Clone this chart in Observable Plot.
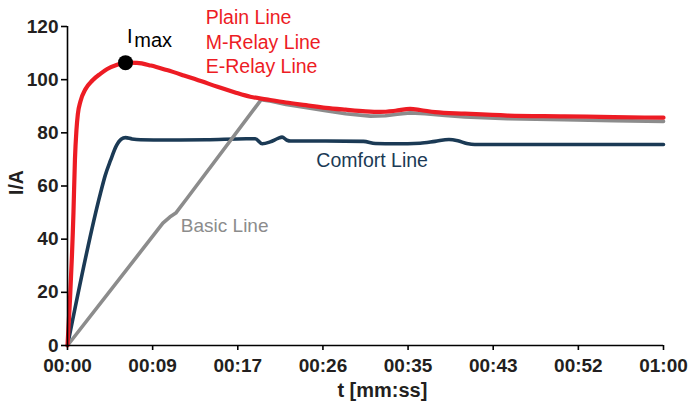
<!DOCTYPE html>
<html><head><meta charset="utf-8">
<script src="https://cdn.jsdelivr.net/npm/d3@7"></script>
<script src="https://cdn.jsdelivr.net/npm/@observablehq/plot@0.6"></script>
<style>body{margin:0;background:#fff}</style>
</head><body><div id="chart"></div>
<script>
// time in seconds, current in A
const plainT = [0, 0.6, 0.75, 0.9, 1.04, 1.3, 1.8, 2.5, 3.3, 4.0, 5.0, 5.84, 7.0, 8.4, 10.0, 11.7, 13.5, 15.1, 16.8, 18.4, 20.0, 22.0, 24.0, 26.0, 28.0, 30.0, 31.5, 33.0, 34.5, 35.5, 37.0, 40.0, 44.3, 50.0, 55.0, 60.0];
const plainI = [0, 50, 70, 81, 87, 91.8, 96.4, 99.7, 102.2, 104.0, 105.6, 106.4, 106.3, 105.3, 103.6, 101.6, 99.4, 97.3, 95.3, 93.6, 92.6, 91.4, 90.4, 89.4, 88.7, 88.1, 87.9, 88.3, 89.0, 88.6, 87.8, 87.2, 86.5, 86.2, 85.9, 85.7];

const basicT = [0, 9.6, 10.3, 10.9, 12.0, 19.5, 20.5, 22.0, 24.1, 26.0, 28.0, 30.5, 32.0, 33.2, 34.5, 36.0, 38.0, 40.0, 44.3, 50.0, 55.0, 60.0];
const basicI = [0, 46, 48.3, 49.8, 55.2, 92.5, 91.9, 90.7, 89.4, 88.3, 87.2, 86.3, 86.4, 87.0, 87.5, 87.2, 86.5, 86.0, 85.3, 84.9, 84.6, 84.3];

const comfortT = [0, 3.3, 3.8, 4.33, 4.9, 5.4, 5.84, 6.5, 7.35, 10.0, 14.0, 18.0, 18.9, 19.6, 20.4, 21.2, 21.6, 22.1, 22.45, 26.0, 29.8, 31.0, 33.0, 35.5, 37.0, 38.4, 39.3, 40.2, 41.0, 50.0, 60.0];
const comfortI = [0, 57, 64, 69.6, 75, 77.6, 78.2, 77.7, 77.4, 77.3, 77.4, 77.8, 77.8, 75.9, 76.6, 77.9, 78.4, 77.2, 76.9, 76.9, 76.8, 76.0, 75.9, 76.1, 76.8, 77.5, 77.0, 76.0, 75.6, 75.6, 75.6];

const imaxPoint = {t: 5.84, v: 106.4};

const yTicks = [0, 20, 40, 60, 80, 100, 120];
const xTickLabels = ["00:00", "00:09", "00:17", "00:26", "00:35", "00:43", "00:52", "01:00"];
const xTicks = xTickLabels.map((_, i) => i * 60 / (xTickLabels.length - 1));

const redLabels = ["Plain Line", "M-Relay Line", "E-Relay Line"];
const redLabelT = 13.92;
const redLabelV = [120.77, 111.63, 102.45];

const toRows = (T, V) => T.map((t, i) => ({t, v: V[i]}));
const plain = toRows(plainT, plainI);
const basic = toRows(basicT, basicI);
const comfort = toRows(comfortT, comfortI);
const labelMap = new Map(xTicks.map((t, i) => [t, xTickLabels[i]]));

const RED = "#ed1c24", BLUE = "#1b3a55", GRAY = "#8c8c8c", INK = "#231f20";
const FONT = "'Liberation Sans', Arial, Helvetica, sans-serif";

const chart = Plot.plot({
  width: 692,
  height: 403,
  marginLeft: 67,
  marginRight: 29,
  marginTop: 26,
  marginBottom: 58,
  style: {fontFamily: FONT, fontSize: "19px", color: INK, background: "white", overflow: "visible"},
  x: {domain: [0, 60]},
  y: {domain: [0, 120]},
  marks: [
    Plot.line(comfort, {x: "t", y: "v", stroke: BLUE, strokeWidth: 3.6, curve: "monotone-x", strokeLinejoin: "round", strokeLinecap: "round"}),
    Plot.line(basic, {x: "t", y: "v", stroke: GRAY, strokeWidth: 3.6, curve: "linear", strokeLinejoin: "round", strokeLinecap: "round"}),
    Plot.line(plain, {x: "t", y: "v", stroke: RED, strokeWidth: 4.2, curve: "monotone-x", strokeLinejoin: "round", strokeLinecap: "round"}),
    Plot.dot([imaxPoint], {x: "t", y: "v", r: 7.5, fill: "black", stroke: null}),
    Plot.text(["I"], {x: () => 5.99, y: () => 113.7, text: d => d, textAnchor: "start", lineAnchor: "bottom", fontSize: 20, fill: "black"}),
    Plot.text(["max"], {x: () => 6.72, y: () => 112.3, text: d => d, textAnchor: "start", lineAnchor: "bottom", fontSize: 20, fill: "black"}),
    Plot.text(redLabels, {x: () => redLabelT, y: (d, i) => redLabelV[i], text: d => d, textAnchor: "start", lineAnchor: "bottom", fontSize: 19.5, fill: RED}),
    Plot.text(["Basic Line"], {x: () => 11.41, y: () => 42.6, text: d => d, textAnchor: "start", lineAnchor: "bottom", fontSize: 19, fill: GRAY}),
    Plot.text(["Comfort Line"], {x: () => 25.05, y: () => 67.1, text: d => d, textAnchor: "start", lineAnchor: "bottom", fontSize: 19.5, fill: BLUE}),
    Plot.ruleX([0], {stroke: "black", strokeWidth: 1.6}),
    Plot.ruleY([0], {stroke: "black", strokeWidth: 1.6}),
    Plot.axisY({ticks: yTicks, tickSize: 6, tickPadding: 3, fontSize: 19, fontWeight: "bold", fill: INK, strokeWidth: 1.6, stroke: "black", label: null}),
    Plot.axisX({ticks: xTicks, tickFormat: d => labelMap.get(d), tickSize: 5, tickPadding: 8, fontSize: 19, fontWeight: "bold", fill: INK, strokeWidth: 1.6, stroke: "black", label: null}),
    Plot.text(["t [mm:ss]"], {x: () => 31.7, frameAnchor: "bottom", dy: 51, text: d => d, textAnchor: "middle", lineAnchor: "bottom", fontSize: 20, fontWeight: "bold", fill: INK}),
    Plot.text(["I/A"], {frameAnchor: "left", y: () => 61.3, dx: -51, rotate: -90, text: d => d, textAnchor: "middle", lineAnchor: "middle", fontSize: 19.5, fontWeight: "bold", fill: INK})
  ]
});
document.getElementById("chart").appendChild(chart);
</script>
</body></html>
